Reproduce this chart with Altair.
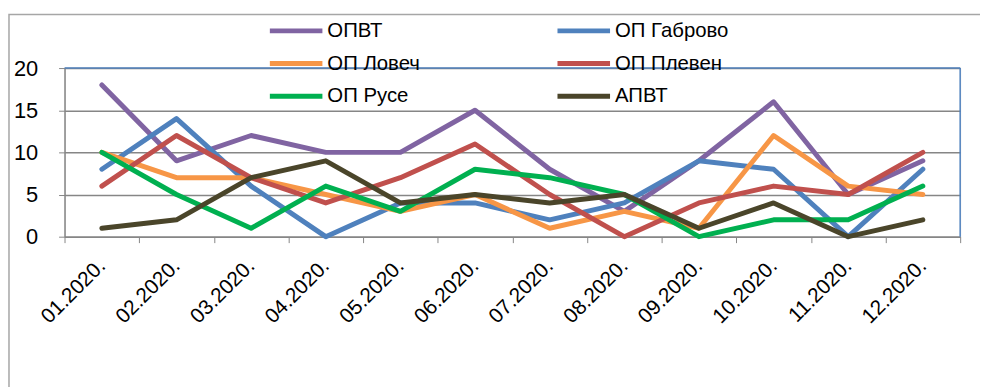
import altair as alt
import pandas as pd

months = ["01.2020.", "02.2020.", "03.2020.", "04.2020.", "05.2020.", "06.2020.",
          "07.2020.", "08.2020.", "09.2020.", "10.2020.", "11.2020.", "12.2020."]
series = ["ОПВТ", "ОП Габрово", "ОП Ловеч", "ОП Плевен", "ОП Русе", "АПВТ"]
opvt = [18, 9, 12, 10, 10, 15, 8, 3, 9, 16, 5, 9]
gabrovo = [8, 14, 6, 0, 4, 4, 2, 4, 9, 8, 0, 8]
lovech = [10, 7, 7, 5, 3, 5, 1, 3, 1, 12, 6, 5]
pleven = [6, 12, 7, 4, 7, 11, 5, 0, 4, 6, 5, 10]
ruse = [10, 5, 1, 6, 3, 8, 7, 5, 0, 2, 2, 6]
apvt = [1, 2, 7, 9, 4, 5, 4, 5, 1, 4, 0, 2]
colors = ["#8064A2", "#4F81BD", "#F79646", "#C0504D", "#00B050", "#4A452A"]
y_ticks = [0, 5, 10, 15, 20]

values = [opvt, gabrovo, lovech, pleven, ruse, apvt]
rows = []
for i, (s, vals) in enumerate(zip(series, values)):
    for m, v in zip(months, vals):
        rows.append({"month": m, "series": s, "value": v, "idx": i})
df = pd.DataFrame(rows)

# legend fills column-wise: reorder so that rows read ОПВТ/ОП Габрово, ...
legend_order = [0, 2, 4, 1, 3, 5]
leg_domain = [series[i] for i in legend_order]
leg_range = [colors[i] for i in legend_order]

W, H = 903, 170
FONT = "Liberation Sans"

x_enc = alt.X("month:N", sort=months,
              scale=alt.Scale(type="band", paddingInner=0, paddingOuter=0),
              axis=alt.Axis(title=None, labelAngle=-45, labelAlign="right",
                            labelBaseline="middle", labelPadding=20,
                            labelFontSize=21, labelFont=FONT, labelColor="#000",
                            tickBand="extent", tickSize=6, tickColor="#868686",
                            domainColor="#868686", domainWidth=1.5, grid=False))
y_enc = alt.Y("value:Q", scale=alt.Scale(domain=[0, 20], nice=False),
              axis=alt.Axis(title=None, values=y_ticks, labelFontSize=22,
                            labelFont=FONT, labelColor="#000", labelPadding=21,
                            tickSize=6, tickColor="#868686", domainColor="#868686",
                            domainWidth=1.5, grid=True, gridColor="#868686",
                            gridWidth=1.5))

lines = alt.Chart(df).mark_line(strokeWidth=5, strokeCap="round",
                                strokeJoin="round").encode(
    x=x_enc,
    y=y_enc,
    color=alt.Color("series:N",
                    scale=alt.Scale(domain=leg_domain, range=leg_range),
                    legend=alt.Legend(title=None, orient="none", legendX=222,
                                      legendY=-49, columns=2, columnPadding=128,
                                      rowPadding=11, symbolType="M-3,0H3",
                                      symbolSize=312, symbolStrokeWidth=5,
                                      labelOffset=20, labelFontSize=20.5,
                                      labelFont=FONT, labelColor="#000",
                                      labelLimit=300)),
    order=alt.Order("idx:Q"),
)

border_df = pd.DataFrame({"top": [20], "bottom": [0]})
top_rule = alt.Chart(border_df).mark_rule(color="#4F81BD", strokeWidth=1.5).encode(
    y=alt.Y("top:Q", scale=alt.Scale(domain=[0, 20])),
    x=alt.value(0), x2=alt.value(W))
right_rule = alt.Chart(border_df).mark_rule(color="#4F81BD", strokeWidth=1.5).encode(
    y=alt.Y("top:Q"), y2="bottom:Q", x=alt.value(W))
outer = alt.Chart(border_df).mark_rect(fill=None, stroke="#A6A6A6", strokeWidth=1.5,
                                       clip=False).encode(
    x=alt.value(-56), x2=alt.value(W + 60), y=alt.value(-54), y2=alt.value(H + 300))

chart = alt.layer(outer, top_rule, right_rule, lines).properties(
    width=W, height=H,
    padding={"left": 57, "top": 59, "right": 20, "bottom": 150},
    autosize=alt.AutoSizeParams(type="none"),
).configure_view(stroke=None).configure(background="white")

chart.save("out.html", embed_options={"renderer": "svg", "actions": False})
